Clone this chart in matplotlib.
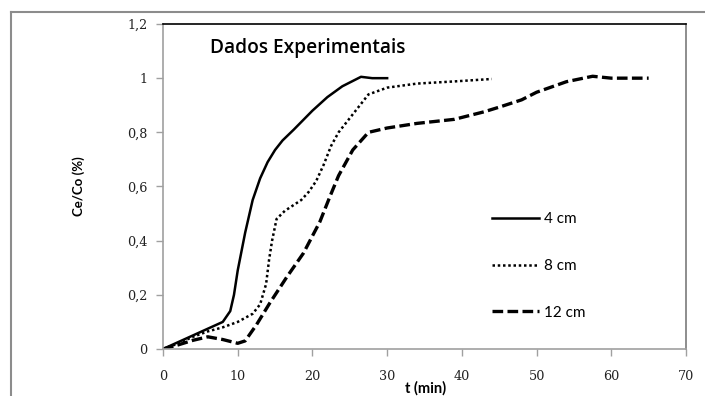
import matplotlib
matplotlib.use('Agg')
import matplotlib.pyplot as plt
from matplotlib.lines import Line2D

# breakthrough curves for three bed heights
t_4cm = [0, 2, 4, 6, 8, 9, 9.5, 10, 11, 12, 13, 14, 15, 16, 17.5, 20, 22, 24, 26.5, 28, 30]
c_4cm = [0, 0.025, 0.05, 0.075, 0.10, 0.14, 0.20, 0.29, 0.43, 0.55, 0.63, 0.69, 0.735,
         0.77, 0.81, 0.88, 0.93, 0.97, 1.005, 1.0, 1.0]

t_8cm = [0, 2, 4, 6, 8, 10, 12, 13, 13.8, 14.2, 14.6, 15.2, 16.3, 18.5, 19.5, 20.5,
         21.5, 22.5, 23.5, 25.5, 27.5, 30, 34, 39, 44]
c_8cm = [0, 0.02, 0.045, 0.065, 0.08, 0.10, 0.13, 0.165, 0.24, 0.33, 0.40, 0.48, 0.51,
         0.55, 0.58, 0.62, 0.68, 0.75, 0.80, 0.87, 0.94, 0.965, 0.98, 0.988, 0.997]

t_12cm = [0, 2, 4, 6, 8, 10, 11, 12.5, 14.3, 16.6, 18.8, 21, 22.3, 23.5, 25.4, 27.5,
          30, 34, 39, 41, 43, 45, 48, 50, 54, 57.5, 60, 65]
c_12cm = [0, 0.015, 0.032, 0.045, 0.035, 0.021, 0.03, 0.089, 0.17, 0.267, 0.354, 0.47,
          0.56, 0.64, 0.735, 0.80, 0.816, 0.833, 0.848, 0.862, 0.876, 0.893, 0.92, 0.948,
          0.987, 1.007, 1.0, 1.0]

labels = ['4 cm', '8 cm', '12 cm']
x_ticks = [0, 10, 20, 30, 40, 50, 60, 70]
y_ticks = [0, 0.2, 0.4, 0.6, 0.8, 1.0, 1.2]
y_ticklabels = ['0', '0,2', '0,4', '0,6', '0,8', '1', '1,2']

fig = plt.figure(figsize=(7.05, 3.96), dpi=100)

# outer chart frame (runs off the right and bottom edges)
W, H = 705, 396
fig.add_artist(Line2D([11 / W, 11 / W], [0, 1 - 12 / H], transform=fig.transFigure,
                      color='#8c8c8c', lw=1.5))
fig.add_artist(Line2D([11 / W, 1], [1 - 12 / H, 1 - 12 / H], transform=fig.transFigure,
                      color='#8c8c8c', lw=1.5))

ax = fig.add_axes([163 / W, 47 / H, 523 / W, 325 / H])

ax.plot(t_4cm, c_4cm, color='black', lw=1.8, label=labels[0])
ax.plot(t_8cm, c_8cm, color='black', lw=1.8, linestyle=(0, (1.0, 1.1)), label=labels[1])
ax.plot(t_12cm, c_12cm, color='black', lw=2.4, linestyle=(0, (3.2, 1.3)), label=labels[2])

ax.set_xlim(0, 70)
ax.set_ylim(0, 1.2)
ax.set_xticks(x_ticks)
ax.set_xticklabels([str(v) for v in x_ticks])
ax.set_yticks(y_ticks)
ax.set_yticklabels(y_ticklabels)

for lab in ax.get_xticklabels() + ax.get_yticklabels():
    lab.set_family('DejaVu Serif')
    lab.set_fontsize(9.2)
    lab.set_color('#222222')

ax.tick_params(axis='both', direction='out', length=5, width=1, color='#a0a0a0')
ax.tick_params(axis='x', pad=10)
ax.tick_params(axis='y', pad=6)

ax.spines['left'].set_color('#a0a0a0')
ax.spines['bottom'].set_color('#a0a0a0')
ax.spines['top'].set_color('black')
ax.spines['right'].set_color('#7a7a7a')
for s in ax.spines.values():
    s.set_linewidth(1.2)

ax.text(47 / 523, 1 - 24 / 325, 'Dados Experimentais', transform=ax.transAxes,
        fontsize=13.8, family='Open Sans', fontweight='semibold', va='center', ha='left')

fig.text(79 / W, 1 - 186 / H, 'Ce/Co (%)', rotation=90, ha='center', va='center',
         fontsize=9.5, family='Lato', fontweight='bold')
fig.text(426 / W, 1 - 388 / H, 't (min)', ha='center', va='center',
         fontsize=10.5, family='Lato', fontweight='bold')

ax.legend(loc='upper left', bbox_to_anchor=(0.617, 0.44), frameon=False,
          prop={'family': 'Lato', 'size': 11}, handlelength=3.1,
          handletextpad=0.3, labelspacing=2.15, borderaxespad=0)

plt.savefig('out.png', dpi=100)
